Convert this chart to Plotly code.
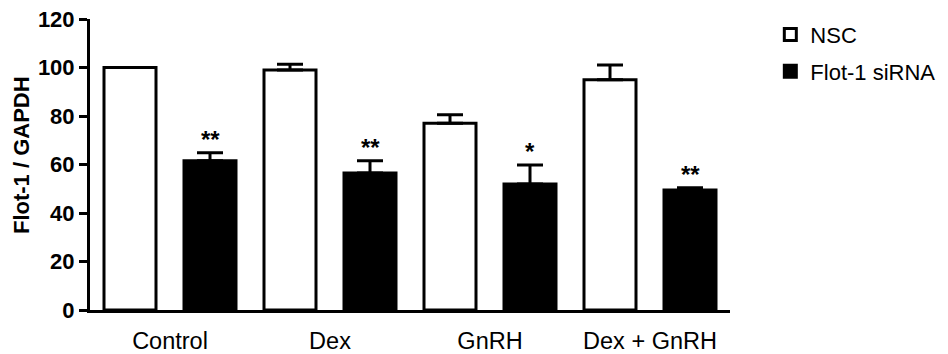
import plotly.graph_objects as go

categories = ["Control", "Dex", "GnRH", "Dex + GnRH"]
series_names = ["NSC", "Flot-1 siRNA"]
nsc_values = [100, 99, 77, 95]
nsc_errors = [0, 2.3, 3.5, 6]
sirna_values = [61.5, 56.5, 52, 49.5]
sirna_errors = [3.3, 5.0, 7.8, 0.9]
star_labels = ["**", "**", "*", "**"]
y_ticks = [0, 20, 40, 60, 80, 100, 120]
y_title = "Flot-1 / GAPDH"

FONT = "Liberation Sans, Arial, sans-serif"

fig = go.Figure()
fig.add_trace(go.Bar(
    name=series_names[0], x=categories, y=nsc_values, legendgroup="g1",
    marker=dict(color="white", line=dict(color="black", width=3)),
    error_y=dict(type="data", array=nsc_errors, arrayminus=[0]*4, symmetric=False,
                 color="black", thickness=3, width=13),
))
fig.add_trace(go.Bar(
    name=series_names[1], x=categories, y=sirna_values, legendgroup="g2",
    marker=dict(color="black", line=dict(color="black", width=3)),
    error_y=dict(type="data", array=sirna_errors, arrayminus=[0]*4, symmetric=False,
                 color="black", thickness=3, width=13),
))

for i, (cat, lab) in enumerate(zip(categories, star_labels)):
    fig.add_annotation(
        x=i + 0.25, xref="x", y=sirna_values[i] + sirna_errors[i], yref="y",
        text="<b>" + lab + "</b>", showarrow=False, yanchor="bottom", xanchor="center",
        font=dict(family=FONT, size=24, color="black"), yshift=-2,
    )

fig.add_annotation(
    x=-0.106, xref="paper", y=0.533, yref="paper", text="<b>" + y_title + "</b>",
    textangle=-90, showarrow=False, xanchor="center", yanchor="middle",
    font=dict(family=FONT, size=22, color="black"),
)

fig.update_layout(
    width=948, height=354, autosize=False,
    margin=dict(l=90, r=218, t=19, b=44, autoexpand=False),
    paper_bgcolor="white", plot_bgcolor="white",
    barmode="group", bargap=0, bargroupgap=0.35,
    font=dict(family=FONT, size=22, color="black"),
    showlegend=True,
    legend=dict(x=1.063, xanchor="left", y=1.018, yanchor="top",
                font=dict(family=FONT, size=22, color="black"),
                bgcolor="rgba(0,0,0,0)", tracegroupgap=5),
)
fig.update_xaxes(
    range=[-0.5, 3.5], showline=True, linecolor="black", linewidth=3,
    ticks="outside", ticklen=8, tickcolor="rgba(0,0,0,0)",
    showgrid=False, zeroline=False, automargin=False,
    tickfont=dict(family=FONT, size=23.5, color="black"),
)
fig.update_yaxes(
    range=[0, 120], tickvals=y_ticks, showline=True, linecolor="black", linewidth=3,
    ticks="outside", ticklen=8, tickwidth=3, tickcolor="black",
    showgrid=False, zeroline=False, automargin=False,
    tickfont=dict(family=FONT, size=22, color="black", weight="bold"),
)

fig.write_html(
    "out.html",
    config={"displayModeBar": False},
    post_script="document.body.style.margin='0';document.body.style.overflow='hidden';",
)
